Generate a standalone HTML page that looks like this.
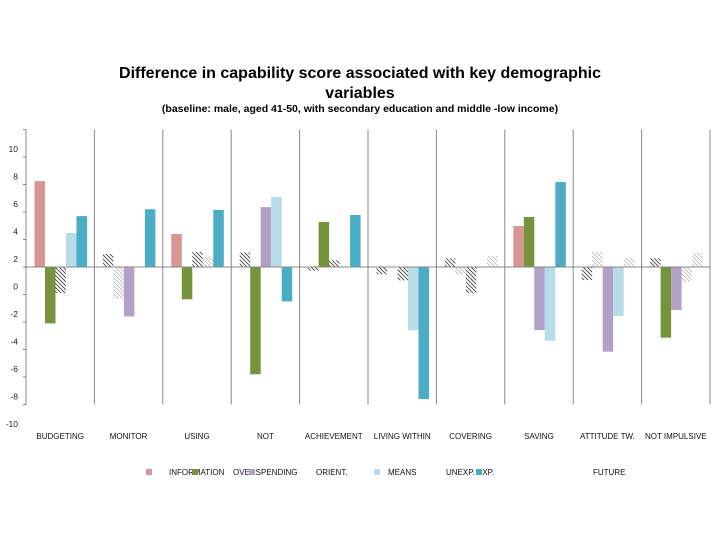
<!DOCTYPE html>
<html><head><meta charset="utf-8"><style>
body{margin:0;background:#fff;}
svg text{font-family:"Liberation Sans",sans-serif;}
</style></head><body>
<svg id="chart" width="720" height="540" xmlns="http://www.w3.org/2000/svg">
<defs>
<pattern id="hatchDark" patternUnits="userSpaceOnUse" width="4" height="4"><path d="M-1,-1 L5,5 M-1,3 L1,5 M3,-1 L5,1" stroke="#444" stroke-width="0.9"/></pattern>
<pattern id="hatchLight" patternUnits="userSpaceOnUse" width="4" height="4"><path d="M-1,-1 L5,5 M-1,3 L1,5 M3,-1 L5,1" stroke="#bbb" stroke-width="0.9"/></pattern>
</defs>
<text x="360" y="78" text-anchor="middle" font-size="16" font-weight="bold">Difference in capability score associated with key demographic</text>
<text x="360" y="98" text-anchor="middle" font-size="16" font-weight="bold">variables</text>
<text x="360" y="112" text-anchor="middle" font-size="10.5" font-weight="bold">(baseline: male, aged 41-50, with secondary education and middle -low income)</text>
<g id="plot"></g>
</svg>
<script>
const categories=["BUDGETING","MONITOR","USING","NOT","ACHIEVEMENT","LIVING WITHIN","COVERING","SAVING","ATTITUDE TW.","NOT IMPULSIVE"];
const seriesNames=["INFORMATION","OVERSPENDING","ORIENT.","MEANS","UNEXP. EXP."];
const seriesColors=["#d99594","#77933c","#b2a1c7","#b7dde8","#4bacc6"];
const infoVals=[6.25,0.95,2.4,1.05,-0.27,-0.53,0.63,2.98,-0.95,0.63];
const overVals=[-4.1,-2.3,-2.35,-7.8,3.27,0,-0.6,3.64,1.1,-5.14];
const orientVals=[-1.9,-3.6,1.1,4.36,0.5,-0.97,-1.9,-4.58,-6.16,-3.13];
const meansVals=[2.47,0,0.75,5.1,0,-4.6,0,-5.36,-3.56,-1.07];
const unexpVals=[3.7,4.2,4.15,-2.5,3.78,-9.6,0.8,6.18,0.68,1.04];
// 1 = significant (solid), 2 = dark hatch, 3 = light hatch
const infoSig=[1,2,1,2,2,2,2,1,2,2];
const overSig=[1,3,1,1,1,1,3,1,3,1];
const orientSig=[2,1,2,1,2,2,2,1,1,1];
const meansSig=[1,1,3,1,1,1,1,1,1,3];
const unexpSig=[1,1,1,1,1,1,3,1,3,3];
const tickValues=[-10,-8,-6,-4,-2,0,2,4,6,8,10];
const tickLabels=["-10","-8","-6","-4","-2","0","2","4","6","8","10"];

const NS="http://www.w3.org/2000/svg";
const plot=document.getElementById("plot");
const X0=26,X1=710,Y0=267,PX=13.75;
const gw=(X1-X0)/categories.length, bw=10.5, off=8.5;
function y(v){return Y0-v*PX;}
function mk(t,a){const e=document.createElementNS(NS,t);for(const k in a)e.setAttribute(k,a[k]);plot.appendChild(e);return e;}

// axis
let ax=mk("line",{x1:X0,x2:X0,y1:y(10),y2:y(-10),stroke:"#888","stroke-width":1});


tickValues.forEach((v,i)=>{
  const t=mk("line",{x1:X0-3,x2:X0,y1:y(v),y2:y(v),stroke:"#888"});
  
  
  const l=mk("text",{x:X0-8,y:y(v-2)-5,"text-anchor":"end","font-size":"8.5",fill:"#222"});
  l.textContent=tickLabels[i];
  
  
});
for(let i=1;i<=categories.length;i++){
  const s=mk("line",{x1:X0+i*gw,x2:X0+i*gw,y1:y(10),y2:y(-10),stroke:"#888"});
  
  
}
const vals=[infoVals,overVals,orientVals,meansVals,unexpVals];
const sigs=[infoSig,overSig,orientSig,meansSig,unexpSig];
categories.forEach((c,ci)=>{
  vals.forEach((arr,si)=>{
    const v=arr[ci]; if(v===0)return;
    const sg=sigs[si][ci];
    const fill=sg===1?seriesColors[si]:(sg===2?"url(#hatchDark)":"url(#hatchLight)");
    const r=mk("rect",{x:X0+ci*gw+off+si*bw,y:Math.min(y(v),Y0),width:bw,height:Math.abs(y(v)-Y0),fill:fill});
    
    
  });
  const l=mk("text",{x:X0+ci*gw+gw/2,y:439,"text-anchor":"middle","font-size":"8",fill:"#111"});
  l.textContent=c;
  
  
});
let z=mk("line",{x1:X0,x2:X1,y1:Y0,y2:Y0,stroke:"#888"});



// legend
const legSq=[149,195,252,377,479];
const legTx=[[169,"INFORMATION"],[233,"OVERSPENDING"],[316,"ORIENT."],[388,"MEANS"],[446,"UNEXP. EXP."],[593,"FUTURE"]];
legTx.forEach(p=>{
  const t=mk("text",{x:p[0],y:475,"font-size":"8",fill:"#111"});
  t.textContent=p[1];
  
  
});
legSq.forEach((x,i)=>{
  const r=mk("rect",{x:x-3,y:469,width:6,height:6,fill:seriesColors[i]});
  
  
});
</script>
</body></html>
